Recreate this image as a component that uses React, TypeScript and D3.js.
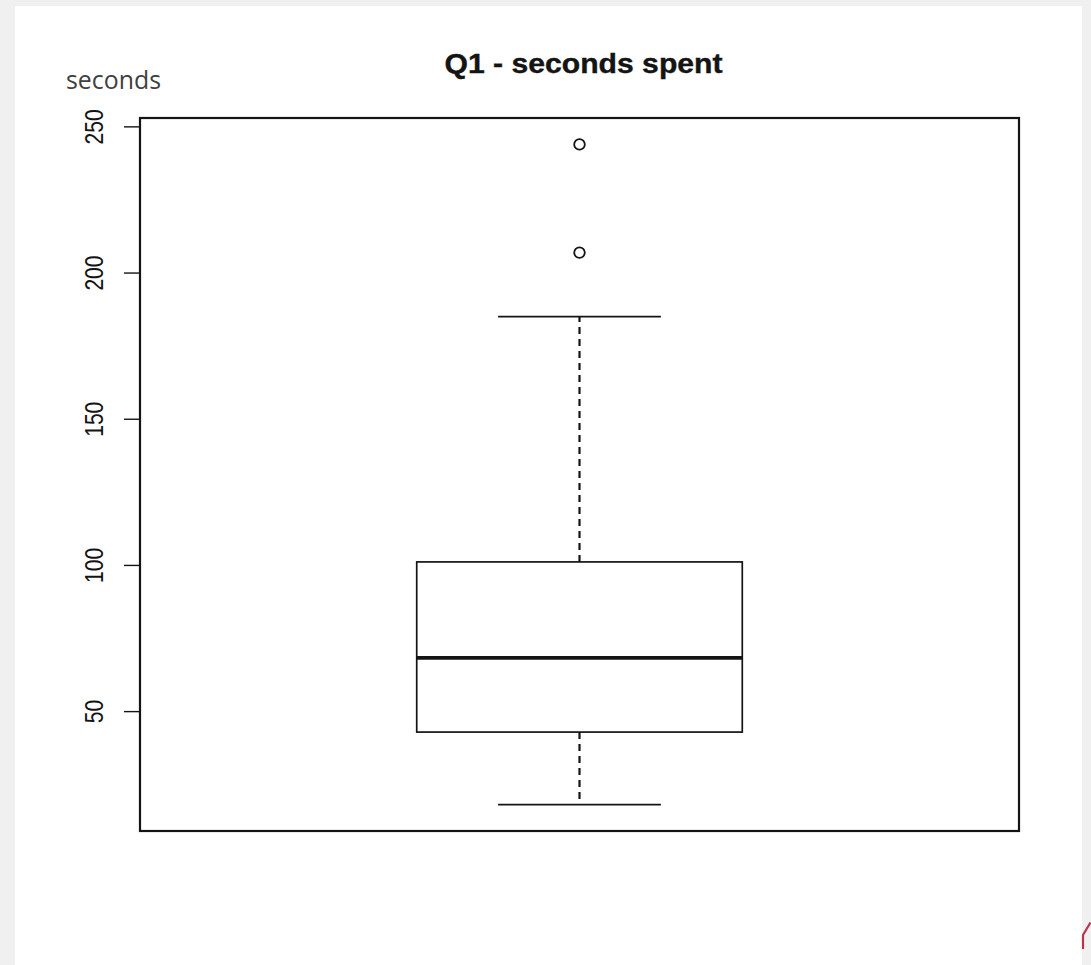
import React from "react";
import * as d3 from "d3";

const title = "Q1 - seconds spent";
const yLabel = "seconds";
const groups = ["Q1"];
const whiskerLow = [18.2];
const quartile1 = [43];
const medians = [68.4];
const quartile3 = [101.2];
const whiskerHigh = [185.1];
const outliers = [[244, 207]];
const yTicks = [50, 100, 150, 200, 250];

const W = 1091;
const H = 965;
const plot = { left: 140, right: 1019, top: 118, bottom: 831 };

export default function App() {
  const allVals = [
    ...whiskerLow,
    ...whiskerHigh,
    ...outliers.flat(),
  ];
  const [lo, hi] = d3.extent(allVals) as [number, number];
  const pad = (hi - lo) * 0.04;
  const y = d3.scaleLinear().domain([lo - pad, hi + pad]).range([plot.bottom, plot.top]);
  const n = groups.length;
  const xpad = n * 0.04;
  const x = d3.scaleLinear().domain([0.5 - xpad, n + 0.5 + xpad]).range([plot.left, plot.right]);
  const ink = "#141414";

  return (
    <svg width={W} height={H} style={{ position: "absolute", left: 0, top: 0 }}>
      <rect x={0} y={0} width={W} height={H} fill="#f0f0f0" />
      <rect x={15} y={6} width={1067} height={H} fill="#ffffff" />
      <path d="M1083,949 L1083,935 L1090.5,922.5" stroke="#b8344f" strokeWidth={2.2} fill="none" />
      <text
        x={(plot.left + plot.right) / 2 + 4}
        y={72.5}
        textAnchor="middle"
        fontFamily="Liberation Sans, Arial, sans-serif"
        fontWeight="bold"
        fontSize={28}
        textLength={278}
        lengthAdjust="spacingAndGlyphs"
        fill={ink}
        stroke={ink}
        strokeWidth={0.4}
      >
        {title}
      </text>
      <text
        x={66}
        y={88.5}
        fontFamily="Open Sans, Noto Sans, sans-serif"
        fontSize={26}
        textLength={95}
        lengthAdjust="spacingAndGlyphs"
        fill="#404040"
      >
        {yLabel}
      </text>
      {yTicks.map((t) => (
        <g key={t}>
          <line x1={124} x2={plot.left} y1={y(t)} y2={y(t)} stroke={ink} strokeWidth={1.4} />
          <text
            transform={`translate(103,${y(t)}) rotate(-90)`}
            textAnchor="middle"
            fontFamily="Liberation Sans, Arial, sans-serif"
            fontSize={25}
            textLength={String(t).length * 11.7}
            lengthAdjust="spacingAndGlyphs"
            fill={ink}
          >
            {t}
          </text>
        </g>
      ))}
      {groups.map((g, i) => {
        const cx = x(i + 1);
        const bx0 = x(i + 1 - 0.2);
        const bx1 = x(i + 1 + 0.2);
        const sx0 = x(i + 1 - 0.1);
        const sx1 = x(i + 1 + 0.1);
        return (
          <g key={g}>
            <line x1={cx} x2={cx} y1={y(quartile3[i])} y2={y(whiskerHigh[i])} stroke={ink} strokeWidth={2.2} strokeDasharray="7,5" />
            <line x1={cx} x2={cx} y1={y(quartile1[i])} y2={y(whiskerLow[i])} stroke={ink} strokeWidth={2.2} strokeDasharray="7,5" />
            <line x1={sx0} x2={sx1} y1={y(whiskerHigh[i])} y2={y(whiskerHigh[i])} stroke={ink} strokeWidth={1.8} />
            <line x1={sx0} x2={sx1} y1={y(whiskerLow[i])} y2={y(whiskerLow[i])} stroke={ink} strokeWidth={1.8} />
            <rect
              x={bx0}
              y={y(quartile3[i])}
              width={bx1 - bx0}
              height={y(quartile1[i]) - y(quartile3[i])}
              fill="none"
              stroke={ink}
              strokeWidth={1.7}
            />
            <line x1={bx0} x2={bx1} y1={y(medians[i])} y2={y(medians[i])} stroke={ink} strokeWidth={3.8} />
            {outliers[i].map((o, k) => (
              <circle key={k} cx={cx} cy={y(o)} r={5.3} fill="none" stroke={ink} strokeWidth={1.8} />
            ))}
          </g>
        );
      })}
      <rect
        x={plot.left}
        y={plot.top}
        width={plot.right - plot.left}
        height={plot.bottom - plot.top}
        fill="none"
        stroke={ink}
        strokeWidth={2.2}
      />
    </svg>
  );
}
